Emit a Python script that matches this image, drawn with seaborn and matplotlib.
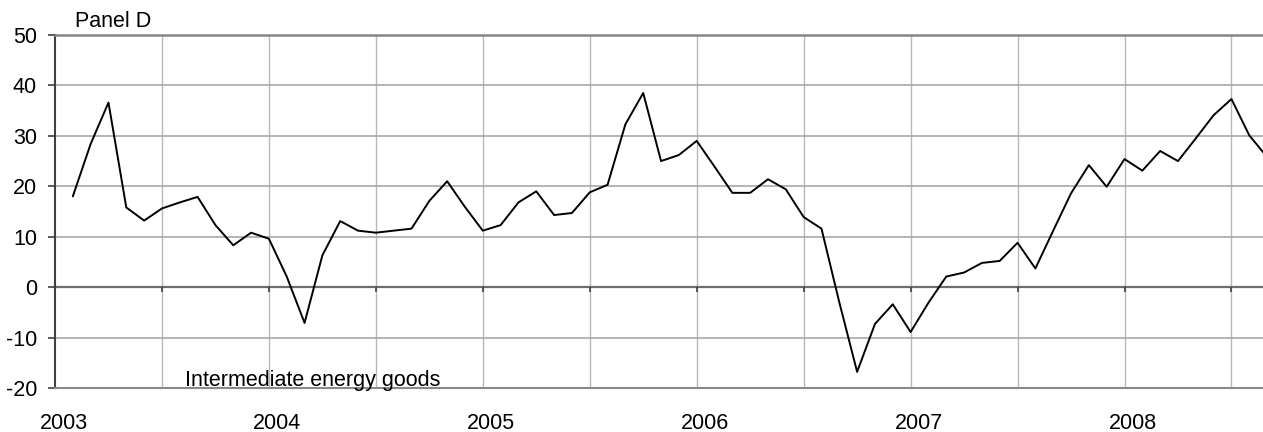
import numpy as np
import pandas as pd
import seaborn as sns
import matplotlib.pyplot as plt

# =====================================================================
# DATOS (variación anual en %)
# =====================================================================
meses = pd.date_range("2003-01-01", periods=68, freq="MS")
valores = [
    18.0, 28.4, 36.6, 15.8, 13.2, 15.6, 16.8, 17.9, 12.3, 8.3, 10.8, 9.6,      # 2003
    2.1, -7.1, 6.3, 13.1, 11.2, 10.8, 11.2, 11.6, 17.1, 21.0, 15.9, 11.2,      # 2004
    12.3, 16.8, 19.0, 14.3, 14.7, 18.8, 20.3, 32.3, 38.5, 25.0, 26.2, 29.0,    # 2005
    23.9, 18.7, 18.7, 21.4, 19.4, 13.9, 11.6, -3.0, -16.8, -7.3, -3.4, -8.9,   # 2006
    -3.1, 2.1, 2.9, 4.8, 5.2, 8.8, 3.7, 11.2, 18.6, 24.2, 19.9, 25.4,          # 2007
    23.1, 27.0, 25.0, 29.5, 34.1, 37.3, 30.1, 25.8,                            # 2008
]
anios = [2003, 2004, 2005, 2006, 2007, 2008]
ticks_y = [-20, -10, 0, 10, 20, 30, 40, 50]

titulo_panel = "Panel D"
etiqueta_serie = "Intermediate energy goods"

# posición en años decimales (fin de mes)
df = pd.DataFrame({
    "t": meses.year + meses.month / 12.0,
    "valor": valores,
})

# =====================================================================
# ESTILO
# =====================================================================
sns.set_theme(style="white", rc={"text.color": "black",
                                 "xtick.labelcolor": "black",
                                 "ytick.labelcolor": "black"})
plt.rcParams['font.family'] = ['Liberation Sans', 'DejaVu Sans']
plt.rcParams['axes.unicode_minus'] = False
tam_fuente = 15.5

fig = plt.figure(figsize=(12.63, 4.32), dpi=100)
ax = fig.add_axes([55 / 1263, 1 - 388 / 432, 1 - 55 / 1263, (388 - 35) / 432])

sns.lineplot(data=df, x="t", y="valor", color="black", linewidth=1.4, ax=ax)

ax.set_xlim(2003.0, 2003.0 + (1263 - 55) / 213.9)
ax.set_ylim(-20, 50)
ax.set_xlabel("")
ax.set_ylabel("")

# rejilla vertical cada semestre
semestres = np.arange(2003.5, 2009.0, 0.5)
ax.set_xticks(semestres)
ax.set_xticklabels([])
ax.tick_params(axis="x", which="major", length=0)
ax.grid(axis="x", color="#b8b8b8", linewidth=1.0)

# etiquetas de años (ligeramente a la derecha del inicio de año)
ax.set_xticks([a + 0.04 for a in anios], minor=True)
ax.set_xticklabels([str(a) for a in anios], minor=True, fontsize=tam_fuente, color="black")
ax.tick_params(axis="x", which="minor", length=0, pad=18)

# eje y
ax.set_yticks(ticks_y)
ax.set_yticklabels([str(v) for v in ticks_y], fontsize=tam_fuente, color="black")
ax.tick_params(axis="y", length=5, width=1.2, color="#404040", pad=8, left=True)
ax.grid(axis="y", color="#a8a8a8", linewidth=1.2)

# línea de cero con marcas
ax.axhline(0, color="#6e6e6e", linewidth=1.6, zorder=1.5)
ax.vlines(semestres, -0.9, 0, color="#404040", linewidth=1.2, zorder=1.6)

ax.spines["left"].set_color("#404040")
ax.spines["left"].set_linewidth(1.5)
ax.spines["top"].set_color("#858585")
ax.spines["top"].set_linewidth(1.8)
ax.spines["bottom"].set_color("#8a8a8a")
ax.spines["bottom"].set_linewidth(1.5)
ax.spines["right"].set_visible(False)

fig.text(75 / 1263, 1 - 27 / 432, titulo_panel, fontsize=tam_fuente, va="baseline", color="black")
fig.text(185 / 1263, 1 - 386 / 432, etiqueta_serie, fontsize=tam_fuente, va="baseline", color="black")

plt.savefig("out.png", dpi=100)
plt.close()
